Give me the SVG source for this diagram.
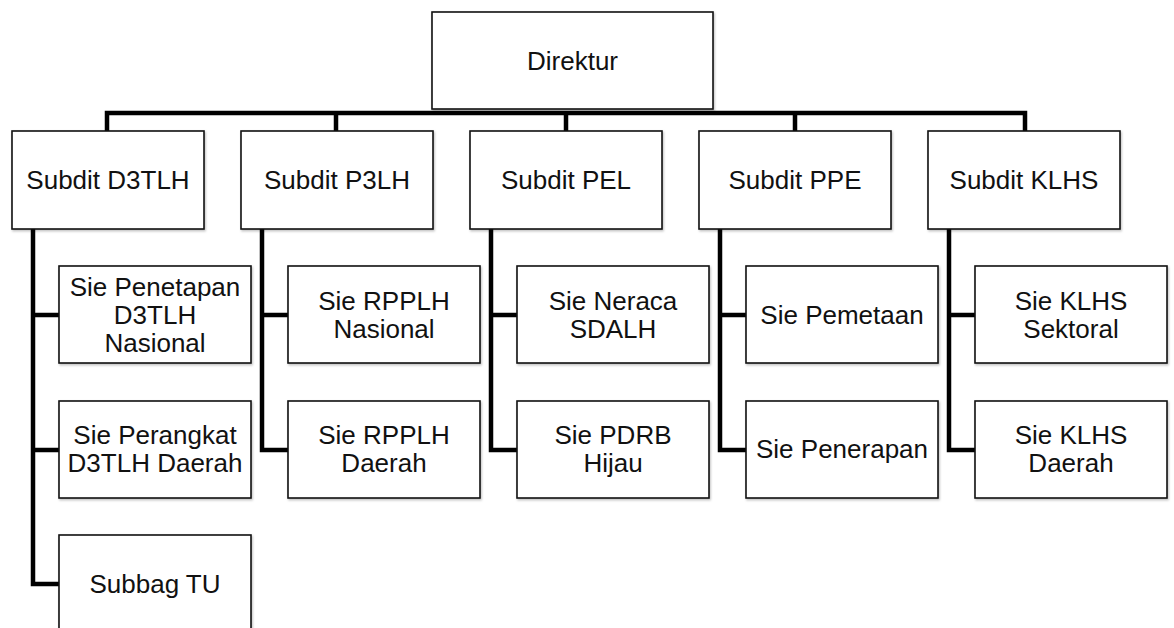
<svg xmlns="http://www.w3.org/2000/svg" width="1174" height="628" viewBox="0 0 1174 628">
<defs>
<filter id="sh" x="-5%" y="-5%" width="110%" height="115%">
<feDropShadow dx="1" dy="1.5" stdDeviation="1" flood-color="#000" flood-opacity="0.25"/>
</filter>
<style>
.box{fill:#fff;stroke:#111;stroke-width:1.6;filter:url(#sh)}
.t{font-family:"Liberation Sans",Arial,sans-serif;font-size:26px;fill:#111;text-anchor:middle}
.c{fill:none;stroke:#000;stroke-width:4.5;stroke-linejoin:miter;stroke-linecap:butt}
</style>
</defs>
<rect width="1174" height="628" fill="#fff"/>
<g id="connectors">
<path class="c" d="M107 131 V113 H1025 V131"/>
<path class="c" d="M336 113 V131 M566 113 V131 M795 113 V131"/>
<path class="c" d="M33 229 V584 H59 M33 315 H59 M33 450 H59"/>
<path class="c" d="M262 229 V450 H288 M262 315 H288"/>
<path class="c" d="M491 229 V450 H517 M491 315 H517"/>
<path class="c" d="M720 229 V450 H746 M720 315 H746"/>
<path class="c" d="M949 229 V450 H975 M949 315 H975"/>
</g>
<g id="direktur"><rect class="box" x="432" y="12" width="281" height="97"/><text class="t" x="572.5" y="69.5">Direktur</text></g>
<g id="subdit-d3tlh"><rect class="box" x="12" y="131" width="192" height="98"/><text class="t" x="108" y="189">Subdit D3TLH</text></g>
<g id="subdit-p3lh"><rect class="box" x="241" y="131" width="192" height="98"/><text class="t" x="337" y="189">Subdit P3LH</text></g>
<g id="subdit-pel"><rect class="box" x="470" y="131" width="192" height="98"/><text class="t" x="566" y="189">Subdit PEL</text></g>
<g id="subdit-ppe"><rect class="box" x="699" y="131" width="192" height="98"/><text class="t" x="795" y="189">Subdit PPE</text></g>
<g id="subdit-klhs"><rect class="box" x="928" y="131" width="192" height="98"/><text class="t" x="1024" y="189">Subdit KLHS</text></g>
<g id="sie-penetapan"><rect class="box" x="59" y="266" width="192" height="97"/><text class="t" x="155" y="295.5">Sie Penetapan<tspan x="155" dy="28">D3TLH</tspan><tspan x="155" dy="28">Nasional</tspan></text></g>
<g id="sie-perangkat"><rect class="box" x="59" y="401" width="192" height="97"/><text class="t" x="155" y="444">Sie Perangkat<tspan x="155" dy="28">D3TLH Daerah</tspan></text></g>
<g id="subbag-tu"><rect class="box" x="59" y="535" width="192" height="97"/><text class="t" x="155" y="592.5">Subbag TU</text></g>
<g id="sie-rpplh-nasional"><rect class="box" x="288" y="266" width="192" height="97"/><text class="t" x="384" y="309.5">Sie RPPLH<tspan x="384" dy="28">Nasional</tspan></text></g>
<g id="sie-rpplh-daerah"><rect class="box" x="288" y="401" width="192" height="97"/><text class="t" x="384" y="444">Sie RPPLH<tspan x="384" dy="28">Daerah</tspan></text></g>
<g id="sie-neraca"><rect class="box" x="517" y="266" width="192" height="97"/><text class="t" x="613" y="309.5">Sie Neraca<tspan x="613" dy="28">SDALH</tspan></text></g>
<g id="sie-pdrb"><rect class="box" x="517" y="401" width="192" height="97"/><text class="t" x="613" y="444">Sie PDRB<tspan x="613" dy="28">Hijau</tspan></text></g>
<g id="sie-pemetaan"><rect class="box" x="746" y="266" width="192" height="97"/><text class="t" x="842" y="323.5">Sie Pemetaan</text></g>
<g id="sie-penerapan"><rect class="box" x="746" y="401" width="192" height="97"/><text class="t" x="842" y="458">Sie Penerapan</text></g>
<g id="sie-klhs-sektoral"><rect class="box" x="975" y="266" width="192" height="97"/><text class="t" x="1071" y="309.5">Sie KLHS<tspan x="1071" dy="28">Sektoral</tspan></text></g>
<g id="sie-klhs-daerah"><rect class="box" x="975" y="401" width="192" height="97"/><text class="t" x="1071" y="444">Sie KLHS<tspan x="1071" dy="28">Daerah</tspan></text></g>
</svg>
